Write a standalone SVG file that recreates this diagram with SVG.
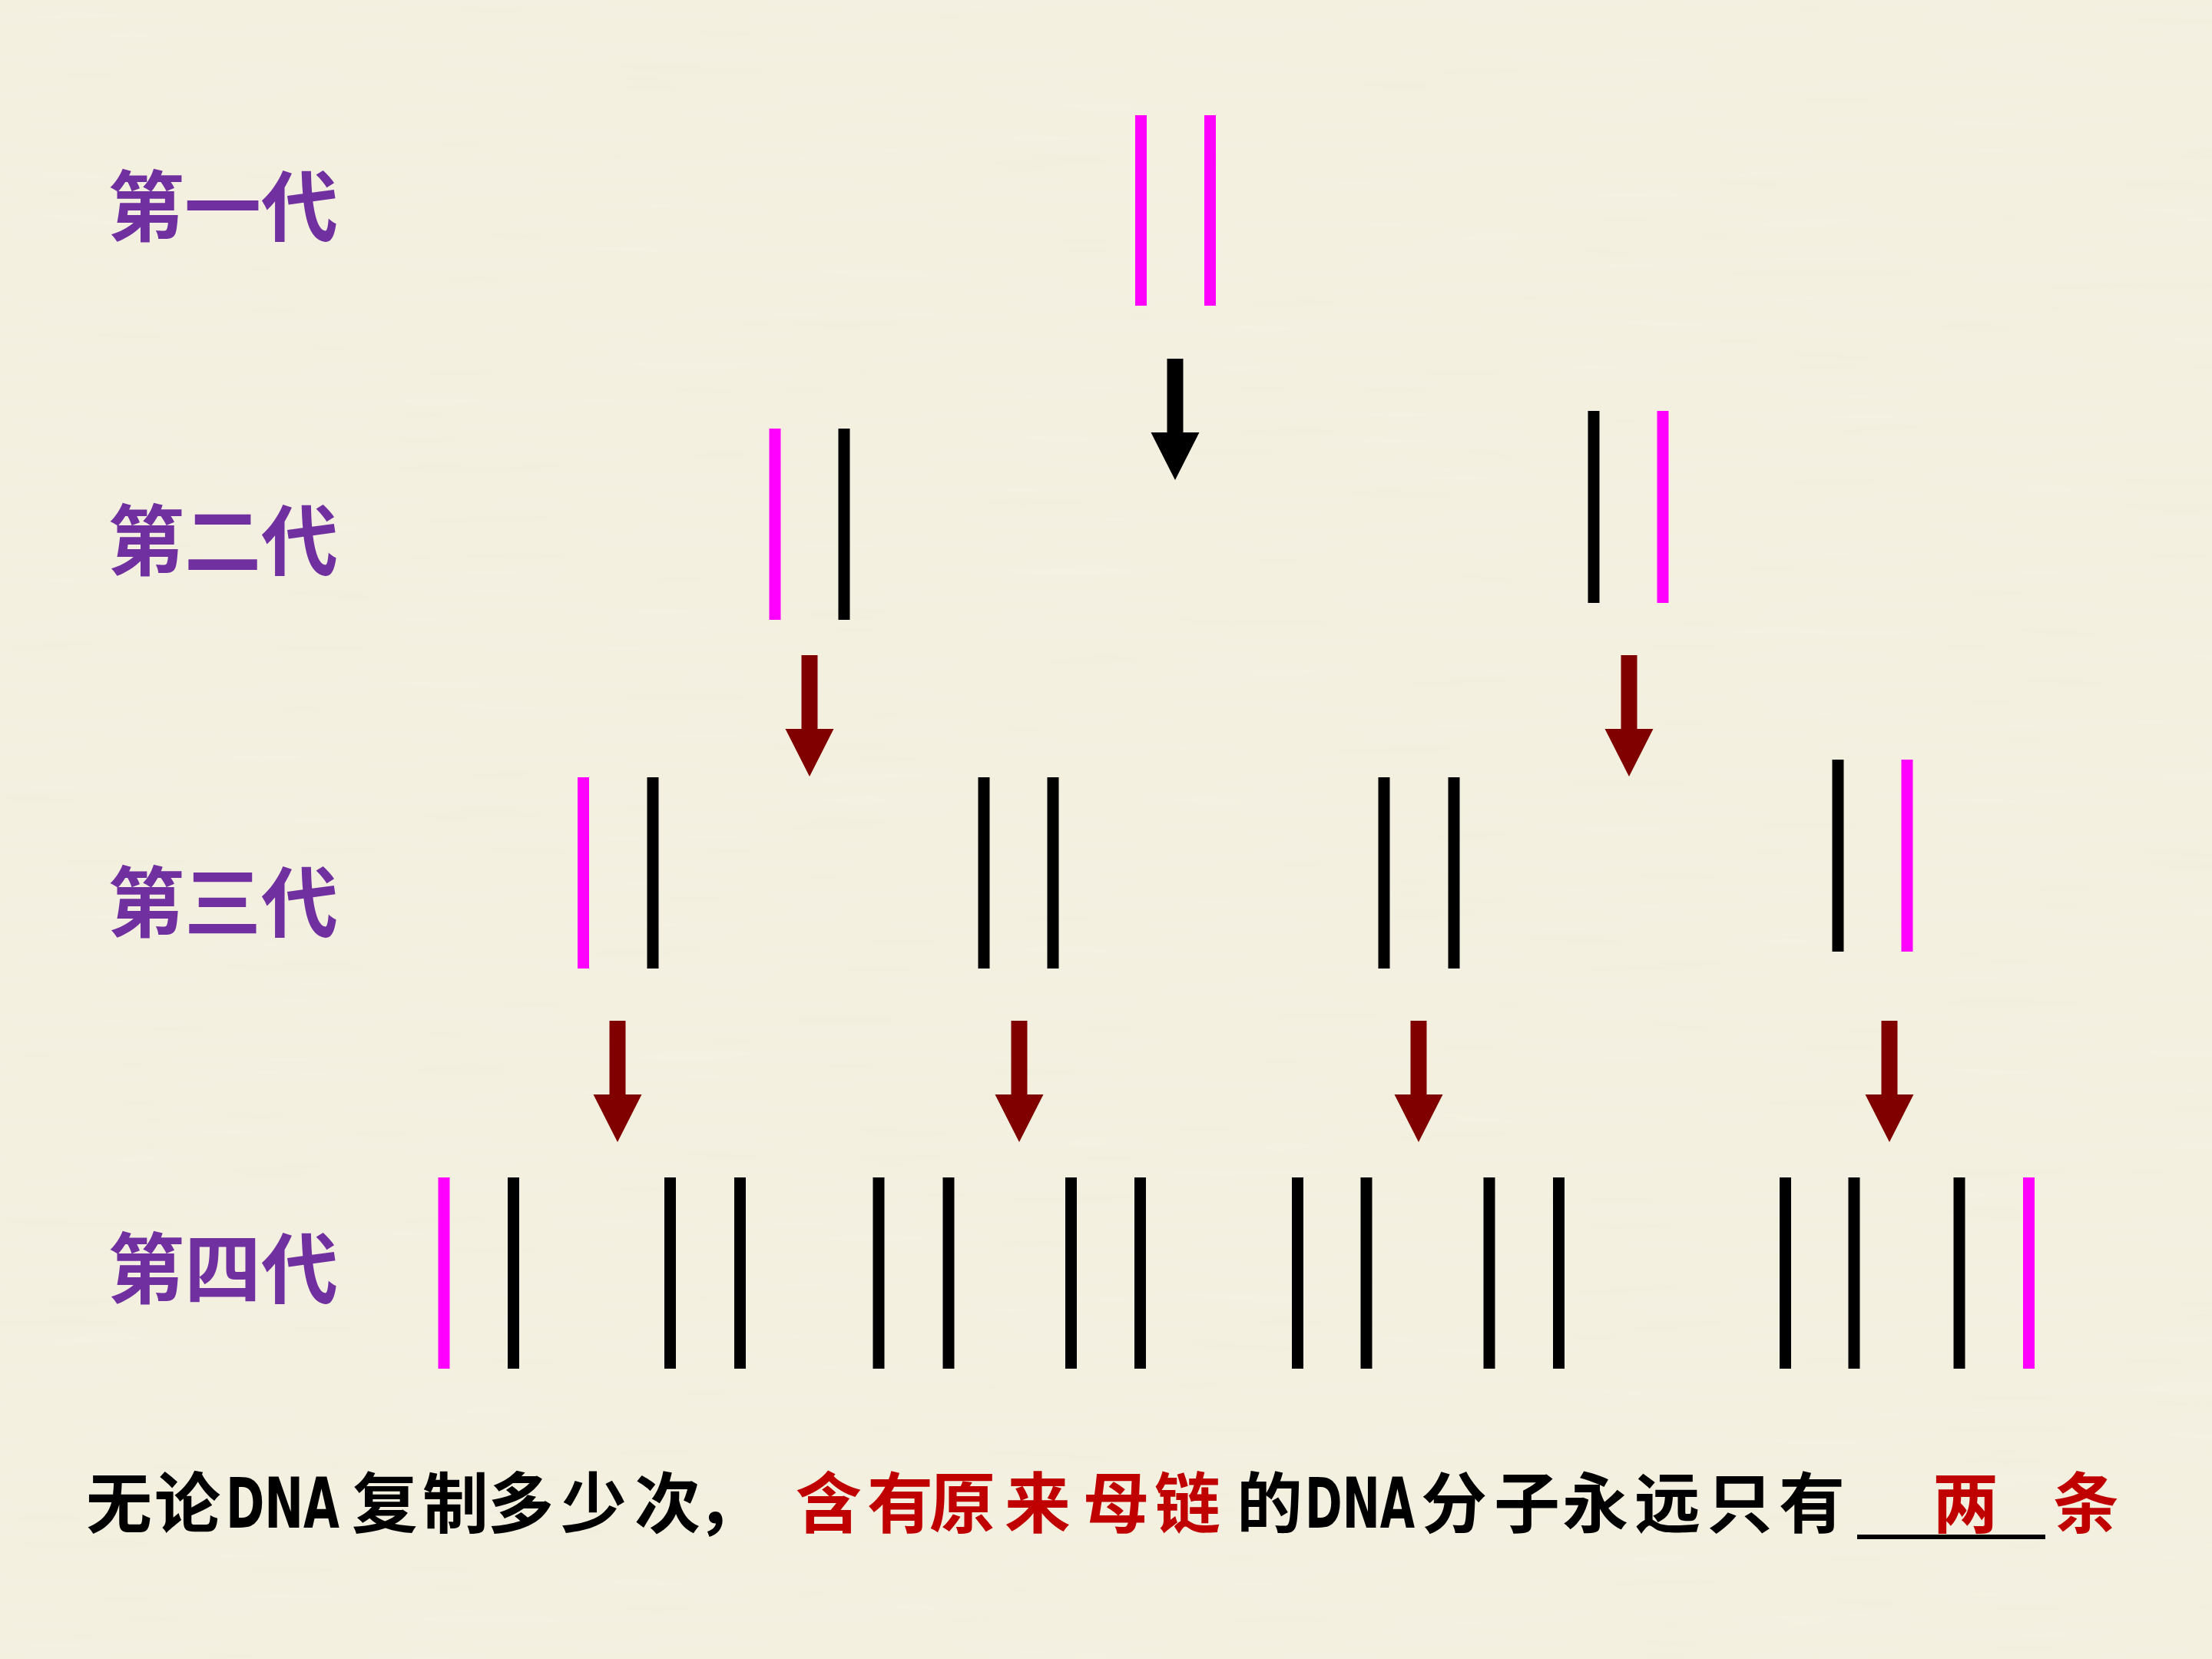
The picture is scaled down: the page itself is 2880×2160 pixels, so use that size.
<svg xmlns="http://www.w3.org/2000/svg" xmlns:xlink="http://www.w3.org/1999/xlink" width="2880" height="2160" viewBox="0 0 2880 2160">
<style>
.m{stroke:#FF00FF;stroke-width:15;fill:none}
.k{stroke:#000000;stroke-width:15;fill:none}
.lbl{font-family:"Noto Sans CJK SC","Noto Sans CJK TC",sans-serif;font-size:100px;font-weight:700;fill:#7030A0}
.t{font-family:"Noto Sans CJK SC","Noto Sans CJK TC",sans-serif;font-size:86px;font-weight:700;fill:#000000}
.r{fill:#C00000}
.dna{font-family:"Liberation Sans Narrow","DejaVu Sans Condensed","Liberation Sans",sans-serif;font-size:90px;font-weight:700}
</style>
<defs>
<path id="arr" d="M-10.5,0 H10.5 V96 H31.5 L0,158 L-31.5,96 H-10.5 Z"/>
<filter id="tex" x="0" y="0" width="100%" height="100%">
<feTurbulence type="fractalNoise" baseFrequency="0.004 0.06" numOctaves="2" seed="3" result="n"/>
<feColorMatrix in="n" type="matrix" values="0 0 0 0 0.93  0 0 0 0 0.91  0 0 0 0 0.83  0 0 0 0.35 0"/>
</filter>
</defs>
<rect x="0" y="0" width="2880" height="2160" fill="#F3EFDE"/>
<rect x="0" y="0" width="2880" height="2160" filter="url(#tex)"/>

<g id="label-gen1"><text class="lbl" x="140" y="306" textLength="300">第一代</text></g>
<g id="label-gen2"><text class="lbl" x="140" y="741" textLength="300">第二代</text></g>
<g id="label-gen3"><text class="lbl" x="140" y="1212" textLength="300">第三代</text></g>
<g id="label-gen4"><text class="lbl" x="140" y="1689" textLength="300">第四代</text></g>

<g id="gen1-dna"><line class="m" x1="1485.5" y1="150" x2="1485.5" y2="398"/><line class="m" x1="1575.5" y1="150" x2="1575.5" y2="398"/></g>

<g id="gen2-dna-a"><line class="m" x1="1009" y1="558" x2="1009" y2="807"/><line class="k" x1="1099" y1="558" x2="1099" y2="807"/></g>
<g id="gen2-dna-b"><line class="k" x1="2075" y1="535" x2="2075" y2="785"/><line class="m" x1="2165" y1="535" x2="2165" y2="785"/></g>

<g id="gen3-dna-a"><line class="m" x1="759.5" y1="1012" x2="759.5" y2="1261"/><line class="k" x1="850" y1="1012" x2="850" y2="1261"/></g>
<g id="gen3-dna-b"><line class="k" x1="1281" y1="1012" x2="1281" y2="1261"/><line class="k" x1="1371" y1="1012" x2="1371" y2="1261"/></g>
<g id="gen3-dna-c"><line class="k" x1="1802" y1="1012" x2="1802" y2="1261"/><line class="k" x1="1893" y1="1012" x2="1893" y2="1261"/></g>
<g id="gen3-dna-d"><line class="k" x1="2393" y1="989" x2="2393" y2="1239"/><line class="m" x1="2483" y1="989" x2="2483" y2="1239"/></g>

<g id="gen4-dna-a"><line class="m" x1="578" y1="1533" x2="578" y2="1782"/><line class="k" x1="668.5" y1="1533" x2="668.5" y2="1782"/></g>
<g id="gen4-dna-b"><line class="k" x1="872.5" y1="1533" x2="872.5" y2="1782"/><line class="k" x1="963.5" y1="1533" x2="963.5" y2="1782"/></g>
<g id="gen4-dna-c"><line class="k" x1="1144" y1="1533" x2="1144" y2="1782"/><line class="k" x1="1235" y1="1533" x2="1235" y2="1782"/></g>
<g id="gen4-dna-d"><line class="k" x1="1394.5" y1="1533" x2="1394.5" y2="1782"/><line class="k" x1="1484.5" y1="1533" x2="1484.5" y2="1782"/></g>
<g id="gen4-dna-e"><line class="k" x1="1689.5" y1="1533" x2="1689.5" y2="1782"/><line class="k" x1="1779" y1="1533" x2="1779" y2="1782"/></g>
<g id="gen4-dna-f"><line class="k" x1="1939" y1="1533" x2="1939" y2="1782"/><line class="k" x1="2029.5" y1="1533" x2="2029.5" y2="1782"/></g>
<g id="gen4-dna-g"><line class="k" x1="2324.5" y1="1533" x2="2324.5" y2="1782"/><line class="k" x1="2414" y1="1533" x2="2414" y2="1782"/></g>
<g id="gen4-dna-h"><line class="k" x1="2551" y1="1533" x2="2551" y2="1782"/><line class="m" x1="2641.5" y1="1533" x2="2641.5" y2="1782"/></g>

<g id="connectors">
<use xlink:href="#arr" href="#arr" x="1530" y="467" fill="#000000"/>
<use xlink:href="#arr" href="#arr" x="1054" y="853" fill="#800000"/>
<use xlink:href="#arr" href="#arr" x="2121" y="853" fill="#800000"/>
<use xlink:href="#arr" href="#arr" x="804" y="1329" fill="#800000"/>
<use xlink:href="#arr" href="#arr" x="1327" y="1329" fill="#800000"/>
<use xlink:href="#arr" href="#arr" x="1847" y="1329" fill="#800000"/>
<use xlink:href="#arr" href="#arr" x="2460" y="1329" fill="#800000"/>
</g>

<g id="conclusion">
<rect x="2418" y="1998" width="245" height="6" fill="#000000"/>
<text class="t" y="1989"><tspan x="112 201">无论</tspan><tspan class="dna" x="294" textLength="148" lengthAdjust="spacingAndGlyphs">DNA</tspan><tspan x="458 550 635 730 826 907">复制多少次，</tspan><tspan class="r" x="1036 1129 1210 1308 1410 1503">含有原来母链</tspan><tspan x="1610">的</tspan><tspan class="dna" x="1699" textLength="143" lengthAdjust="spacingAndGlyphs">DNA</tspan><tspan x="1850 1945 2034 2128 2222 2316">分子永远只有</tspan><tspan class="r" x="2516">两</tspan><tspan class="r" x="2673">条</tspan></text>
</g>
</svg>
